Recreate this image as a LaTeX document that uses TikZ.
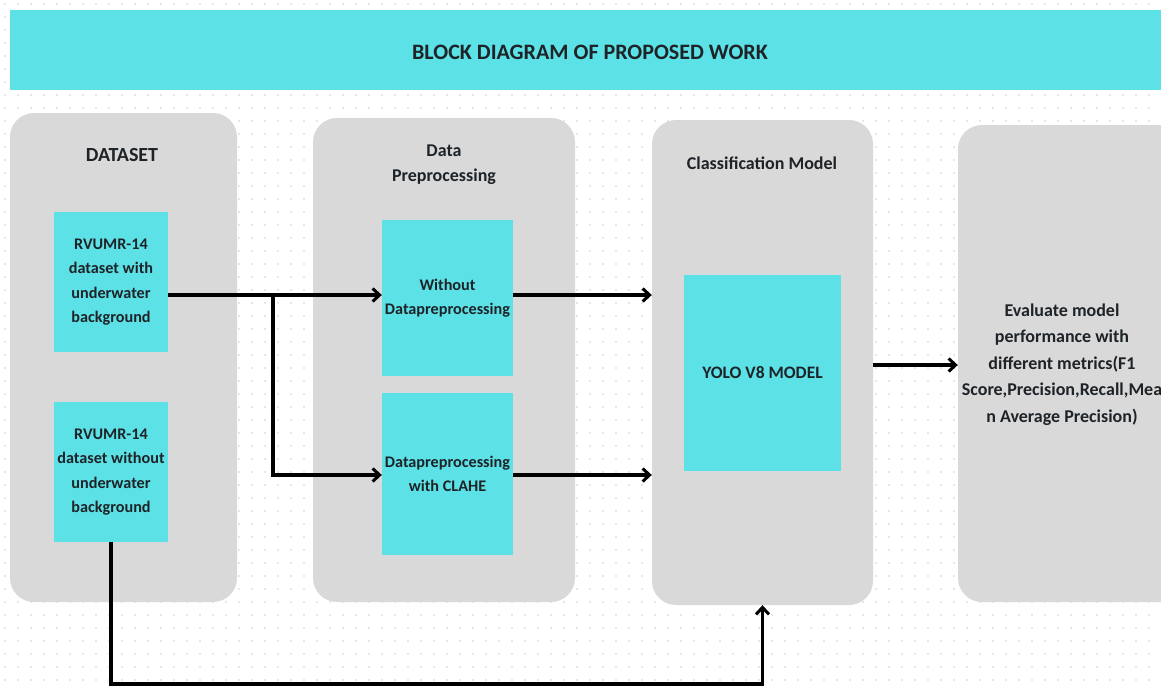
\documentclass[tikz,border=0pt]{standalone}
\usepackage{fontspec}
\setmainfont{Carlito}
\usetikzlibrary{arrows.meta,calc}
\definecolor{cyanbox}{HTML}{5CE1E6}
\definecolor{panelgrey}{HTML}{D9D9D9}
\definecolor{dotgrey}{HTML}{D0D0D0}
\definecolor{ink}{HTML}{1E2328}
\tikzset{
  panel/.style={fill=panelgrey, draw=none, rounded corners=24pt, inner sep=0pt},
  cbox/.style={fill=cyanbox, draw=none, inner sep=0pt, text=ink, align=center, font=\fontsize{16.2}{24.5}\selectfont\bfseries},
  ptitle/.style={text=ink, align=center, font=\fontsize{18}{25}\selectfont\bfseries},
  conn/.style={line width=3.4pt, black},
  arr/.style={conn, -{Straight Barb[length=7pt,width=13pt,line width=3pt]}}
}
\begin{document}
\begin{tikzpicture}[x=1pt,y=-1pt]
\useasboundingbox (0,0) rectangle (1161,686);
\fill[white] (0,0) rectangle (1161,686);
% dotted background
\foreach \i in {0,...,89} {
  \foreach \j in {0,...,53} {
    \fill[dotgrey] (5+13*\i, 4+13*\j) circle (0.9pt);
  }
}
% header
\node[fill=cyanbox, minimum width=1170pt, minimum height=80pt, inner sep=0pt] (hdr) at (595,50) {};
\node[text=ink, font=\fontsize{22}{24}\selectfont\bfseries] (title) at (590,52) {BLOCK DIAGRAM OF PROPOSED WORK};
% panels
\node[panel, minimum width=227pt, minimum height=489pt] (P1) at (123.5,357.5) {};
\node[panel, minimum width=262pt, minimum height=484pt] (P2) at (444,360) {};
\node[panel, minimum width=221pt, minimum height=485pt] (P3) at (762.5,362.5) {};
\node[panel, minimum width=240pt, minimum height=477pt] (P4) at (1078,363.5) {};
% panel titles
\node[ptitle, font=\fontsize{20}{25}\selectfont\bfseries] (t1) at (122,155) {DATASET};
\node[ptitle] (t2) at (444,165) {Data\\Preprocessing};
\node[ptitle] (t3) at (762,163) {Classification Model};
% boxes
\node[cbox, minimum width=114pt, minimum height=140pt] (A) at (111,282) {RVUMR-14\\dataset with\\underwater\\background};
\node[cbox, minimum width=114pt, minimum height=140pt] (B) at (111,472) {RVUMR-14\\dataset without\\underwater\\background};
\node[cbox, minimum width=131pt, minimum height=156pt] (C) at (447.5,298) {Without\\Datapreprocessing};
\node[cbox, minimum width=131pt, minimum height=162pt] (D) at (447.5,474) {Datapreprocessing\\with CLAHE};
\node[cbox, minimum width=157pt, minimum height=196pt, font=\fontsize{17.5}{23}\selectfont\bfseries] (E) at (762.5,373) {YOLO V8 MODEL};
% evaluation text
\node[text=ink, align=center, font=\fontsize{18}{26.5}\selectfont\bfseries] (ev) at (1062,364.5) {Evaluate model\\performance with\\different metrics(F1\\Score,Precision,Recall,Mea\\n Average Precision)};
% routing coordinates
\coordinate (r1) at (0,295);
\coordinate (r2) at (0,475);
\coordinate (r3) at (0,365);
\coordinate (jx) at (273,0);
\coordinate (bot) at (0,684);
% connectors
\draw[arr] (A.east |- r1) -- (C.west |- r1);
\draw[arr] (jx |- r1) |- (D.west |- r2);
\draw[arr] (C.east |- r1) -- (P3.west |- r1);
\draw[arr] (D.east |- r2) -- (P3.west |- r2);
\draw[arr] (P3.east |- r3) -- (P4.west |- r3);
\draw[arr] (B.south) -- (B.south |- bot) -| (P3.south);
\end{tikzpicture}
\end{document}
